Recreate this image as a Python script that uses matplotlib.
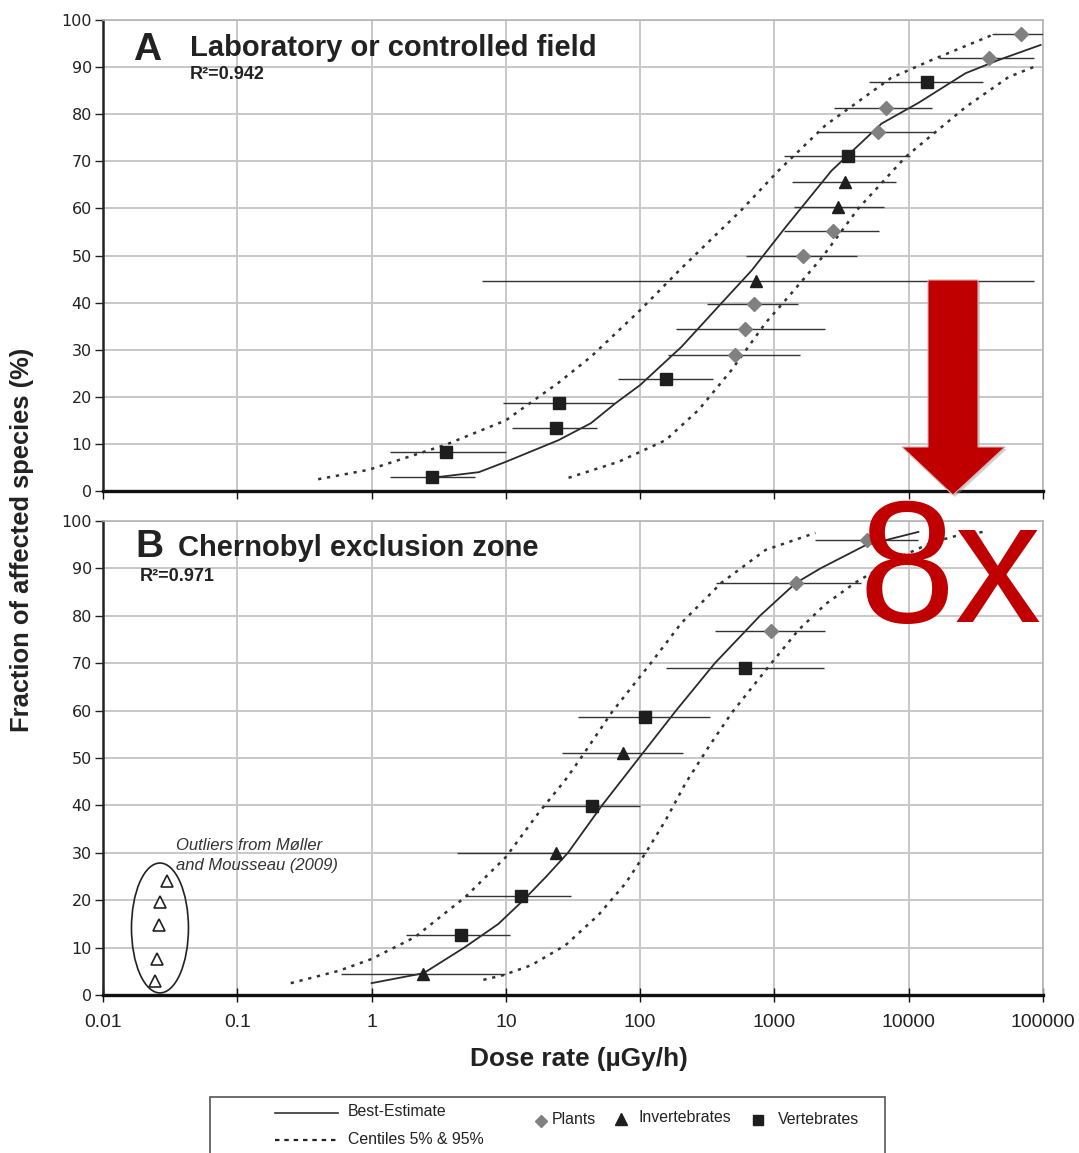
import matplotlib
matplotlib.use('Agg')
from matplotlib import pyplot as plt
from matplotlib import font_manager as fm
from matplotlib.patches import Ellipse, Polygon, Rectangle
from matplotlib.lines import Line2D
from matplotlib.ticker import FixedLocator, FixedFormatter, NullLocator
import numpy as np

# ---------------- data ----------------
x_ticks = [0.01, 0.1, 1, 10, 100, 1000, 10000, 100000]
x_tick_labels = ['0.01', '0.1', '1', '10', '100', '1000', '10000', '100000']
y_ticks = list(range(0, 101, 10))

# panel A - laboratory or controlled field
a_best_x = [2.8, 6.3, 10, 24.7, 43, 66, 100, 203, 404, 680, 1210, 2660, 6270, 11800, 26500, 46600, 96000]
a_best_y = [2.8, 4.0, 6.2, 10.8, 14.4, 18.7, 22.5, 30.6, 39.9, 46.9, 56, 68, 78, 82.4, 88.7, 91.5, 94.7]
a_c05_x = [0.40, 0.95, 3.55, 10, 24.7, 43, 100, 203, 570, 1070, 2410, 7390, 14800, 41700, 45000]
a_c05_y = [2.5, 4.5, 9.8, 15, 23, 28.5, 38.4, 47.3, 59.7, 68, 77.7, 87.7, 91.5, 96.8, 97]
a_c95_x = [29.3, 69, 155, 272, 480, 860, 1340, 2250, 4220, 9450, 26500, 55500, 92000]
a_c95_y = [2.8, 6.2, 10.8, 17.2, 25.7, 35.7, 42, 49.5, 60.0, 70.9, 81.5, 87.9, 90.4]

a_plants_x = [510, 600, 700, 1620, 2710, 5860, 6720, 39300, 69000]
a_plants_y = [28.8, 34.4, 39.7, 49.9, 55.2, 76.2, 81.4, 91.9, 97.0]
a_plants_lo = [160, 184, 313, 610, 1170, 2060, 2800, 16900, 41400]
a_plants_hi = [1540, 2360, 1490, 4130, 5960, 15600, 15000, 85000, 100000]

a_invert_x = [735, 3000, 3330]
a_invert_y = [44.5, 60.4, 65.5]
a_invert_lo = [6.6, 1410, 1360]
a_invert_hi = [85000, 6600, 7980]

a_vert_x = [2.8, 3.6, 23.5, 24.7, 155, 3560, 13800]
a_vert_y = [3.0, 8.2, 13.4, 18.7, 23.8, 71.2, 86.9]
a_vert_lo = [1.38, 1.38, 11.2, 9.45, 68, 1170, 5020]
a_vert_hi = [5.85, 10, 48, 64, 347, 10300, 36000]

# panel B - Chernobyl exclusion zone
b_best_x = [1.0, 2.44, 4.9, 8.8, 13.5, 20, 29, 52, 98, 185, 360, 780, 1440, 2200, 4780, 11800]
b_best_y = [2.5, 4.6, 10, 15, 20, 25, 30, 40, 50, 60, 70, 80, 86.9, 90, 94.9, 97.7]
b_c05_x = [0.25, 0.57, 1.0, 2.1, 5.0, 10, 17.5, 27.8, 36.6, 61, 89, 120, 203, 404, 860, 2020]
b_c05_y = [2.5, 5.1, 7.6, 12.2, 20.7, 29.1, 38.4, 45.4, 50.2, 59.5, 65.4, 70, 78.5, 87, 93.9, 97.5]
b_c95_x = [6.8, 9.6, 15.5, 27.8, 49, 78, 110, 155, 218, 323, 480, 900, 1510, 2410, 4000, 8000, 15000, 25000, 36300]
b_c95_y = [3.2, 4.2, 6.3, 10.5, 16.9, 23.6, 30, 36.9, 44.7, 52.3, 59.5, 69.2, 77, 82.5, 87, 92, 95.5, 97.2, 97.7]

b_plants_x = [935, 1440, 4860]
b_plants_y = [76.8, 86.9, 96.0]
b_plants_lo = [364, 370, 2020]
b_plants_hi = [2380, 4380, 11800]

b_invert_x = [2.4, 23.5, 75]
b_invert_y = [4.4, 30.0, 51.0]
b_invert_lo = [0.59, 4.3, 26.4]
b_invert_hi = [9.8, 111, 207]

b_vert_x = [4.6, 12.9, 43.5, 108, 600]
b_vert_y = [12.7, 20.9, 39.9, 58.6, 69.0]
b_vert_lo = [1.79, 5.0, 18.5, 34.2, 157]
b_vert_hi = [10.8, 30.8, 100, 334, 2320]

b_out_x = [0.0298, 0.0264, 0.026, 0.0251, 0.0246]
b_out_y = [24.1, 19.6, 14.8, 7.6, 3.0]

# ---------------- fonts ----------------
names = {f.name for f in fm.fontManager.ttflist}
HAS_NARROW = 'Liberation Sans Narrow' in names
NARROW = 'Liberation Sans Narrow' if HAS_NARROW else 'Liberation Sans'
k = 1.0 if HAS_NARROW else 0.82   # shrink sizes when narrow face missing
plt.rcParams['font.family'] = ['Liberation Sans', 'DejaVu Sans']

W, H = 1079, 1153
def fx(px):
    return px / W
def fy(py):
    return 1 - py / H

fig = plt.figure(figsize=(W / 100, H / 100), dpi=100)
axA = fig.add_axes([fx(103), fy(491), 940 / W, 471 / H])
axB = fig.add_axes([fx(103), fy(995), 940 / W, 474 / H])

dark = '#1e1e1e'
grey_mk = '#808080'
dots = (0, (1.3, 2.3))

def style(ax, bottom_labels):
    ax.set_xscale('log')
    ax.set_xlim(0.01, 100000)
    ax.set_ylim(0, 100)
    ax.xaxis.set_major_locator(FixedLocator(x_ticks))
    ax.xaxis.set_minor_locator(NullLocator())
    ax.xaxis.set_major_formatter(FixedFormatter(x_tick_labels))
    ax.set_yticks(y_ticks)
    ax.grid(True, color='#c8c8c8', lw=1.4, zorder=0)
    ax.set_axisbelow(True)
    for s in ['top', 'right']:
        ax.spines[s].set_color('#b4b4b4')
        ax.spines[s].set_linewidth(1.2)
    ax.spines['left'].set_color('#222222')
    ax.spines['left'].set_linewidth(1.8)
    ax.spines['bottom'].set_color('#111111')
    ax.spines['bottom'].set_linewidth(2.4)
    ax.tick_params(axis='y', direction='out', length=6, width=1, pad=2,
                   labelsize=11.5, labelcolor='#222222', colors='#222222')
    for t in ax.get_yticklabels():
        t.set_family('DejaVu Sans')
    if bottom_labels:
        ax.tick_params(axis='x', direction='inout', length=10, width=1, pad=9,
                       labelsize=17 * k, labelcolor='#222222', colors='#111111')
        for t in ax.get_xticklabels():
            t.set_family(NARROW)
    else:
        ax.tick_params(axis='x', direction='out', length=6, width=1,
                       labelbottom=False, colors='#111111')

def draw_points(ax, x, y, lo, hi, marker, color, ms):
    x = np.array(x); lo = np.array(lo); hi = np.array(hi)
    ax.errorbar(x, y, xerr=[x - lo, hi - x], fmt='none', ecolor='#333333',
                elinewidth=1.0, capsize=0, zorder=3)
    ax.plot(x, y, ls='none', marker=marker, color=color, ms=ms, mec=color, zorder=4)

style(axA, False)
style(axB, True)

# panel A
axA.plot(a_best_x, a_best_y, color='#2a2a2a', lw=1.3, zorder=2)
axA.plot(a_c05_x, a_c05_y, color='#333333', lw=1.8, ls=dots, zorder=2)
axA.plot(a_c95_x, a_c95_y, color='#333333', lw=1.8, ls=dots, zorder=2)
draw_points(axA, a_plants_x, a_plants_y, a_plants_lo, a_plants_hi, 'D', grey_mk, 7.5)
draw_points(axA, a_invert_x, a_invert_y, a_invert_lo, a_invert_hi, '^', dark, 9)
draw_points(axA, a_vert_x, a_vert_y, a_vert_lo, a_vert_hi, 's', dark, 8)

# panel B
axB.plot(b_best_x, b_best_y, color='#2a2a2a', lw=1.3, zorder=2)
axB.plot(b_c05_x, b_c05_y, color='#333333', lw=1.8, ls=dots, zorder=2)
axB.plot(b_c95_x, b_c95_y, color='#333333', lw=1.8, ls=dots, zorder=2)
draw_points(axB, b_plants_x, b_plants_y, b_plants_lo, b_plants_hi, 'D', grey_mk, 7.5)
draw_points(axB, b_invert_x, b_invert_y, b_invert_lo, b_invert_hi, '^', dark, 9)
draw_points(axB, b_vert_x, b_vert_y, b_vert_lo, b_vert_hi, 's', dark, 8)
axB.plot(b_out_x, b_out_y, ls='none', marker='^', mfc='white', mec='#222222', mew=1.2, ms=8, zorder=4)
axB.add_patch(Ellipse((0.0606, 0.1414), 0.0606, 0.274, transform=axB.transAxes,
                      fill=False, ec='#222222', lw=1.2, zorder=4))

# panel titles
tc = '#222222'
fig.text(fx(133), fy(60), 'A', fontsize=28, fontweight='bold', color=tc)
fig.text(fx(190), fy(56), 'Laboratory or controlled field', fontsize=21, fontweight='bold', color=tc)
fig.text(fx(190), fy(79), 'R²=0.942', fontsize=13, fontweight='bold', color=tc)
fig.text(fx(135), fy(557), 'B', fontsize=28, fontweight='bold', color=tc)
fig.text(fx(178), fy(556), 'Chernobyl exclusion zone', fontsize=21, fontweight='bold', color=tc)
fig.text(fx(140), fy(581), 'R²=0.971', fontsize=13, fontweight='bold', color=tc)
fig.text(fx(176), fy(850), 'Outliers from Møller', fontsize=12, style='italic', color='#333333')
fig.text(fx(176), fy(870), 'and Mousseau (2009)', fontsize=12, style='italic', color='#333333')

# axis labels
fig.text(fx(22), fy(540), 'Fraction of affected species (%)', rotation=90, ha='center', va='center',
         fontsize=22.4 * k, fontweight='bold', family=NARROW, color=tc)
fig.text(fx(579), fy(1066), 'Dose rate (µGy/h)', ha='center', va='baseline',
         fontsize=23 * k, fontweight='bold', family=NARROW, color=tc)

# red arrow and "8x"
arrow_px = [(928, 280), (978, 280), (978, 447), (1005, 447), (953, 495), (902, 447), (928, 447)]
shadow = Polygon([(fx(x + 2), fy(y + 2)) for x, y in arrow_px], closed=True,
                 transform=fig.transFigure, fc='#9a9a9a', ec='none', alpha=0.45, zorder=10)
arrow = Polygon([(fx(x), fy(y)) for x, y in arrow_px], closed=True,
                transform=fig.transFigure, fc='#C00000', ec='#d8b0b0', lw=0.8, zorder=11)
fig.add_artist(shadow)
fig.add_artist(arrow)
fig.text(fx(858), fy(622), '8x', fontsize=125, color='#C00000', family='Liberation Sans',
         va='baseline', zorder=12)

# legend box
fig.add_artist(Rectangle((fx(210), fy(1165)), 675 / W, 68 / H, transform=fig.transFigure,
                         fc='white', ec='#555555', lw=1.2))
fig.add_artist(Line2D([fx(275), fx(338)], [fy(1113), fy(1113)], color='#333333', lw=1.2))
fig.add_artist(Line2D([fx(275), fx(338)], [fy(1140), fy(1140)], color='#222222', lw=1.6, ls=(0, (2, 2.2))))
lg = dict(fontsize=14 * k, family=NARROW, color=tc, va='center')
fig.text(fx(348), fy(1112), 'Best-Estimate', **lg)
fig.text(fx(348), fy(1139), 'Centiles 5% & 95%', **lg)
fig.add_artist(Line2D([fx(541)], [fy(1121)], ls='none', marker='D', ms=6, color=grey_mk))
fig.text(fx(552), fy(1120), 'Plants', **lg)
fig.add_artist(Line2D([fx(621)], [fy(1119)], ls='none', marker='^', ms=8, color=dark))
fig.text(fx(639), fy(1118), 'Invertebrates', **lg)
fig.add_artist(Line2D([fx(758)], [fy(1120)], ls='none', marker='s', ms=6.5, color=dark))
fig.text(fx(778), fy(1120), 'Vertebrates', **lg)

fig.savefig('out.png', dpi=100)
